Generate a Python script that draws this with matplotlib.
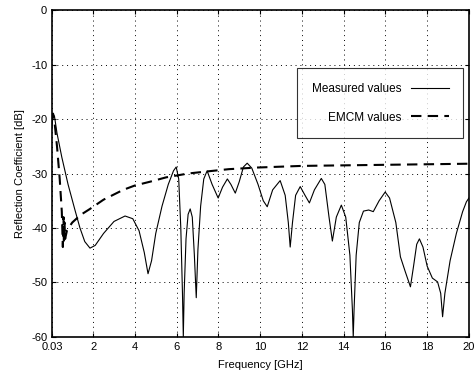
import matplotlib
matplotlib.use("Agg")
import matplotlib.pyplot as plt

plt.rcParams['font.family'] = ['Liberation Sans', 'DejaVu Sans']

# Measured values (frequency GHz, reflection dB)
meas_f = [0.03, 0.08, 0.15, 0.27, 0.5, 0.8, 1.13, 1.37, 1.6, 1.85, 2.1, 2.5, 3.0, 3.53,
          3.9, 4.2, 4.45, 4.63, 4.8, 5.0, 5.3, 5.6, 5.85, 5.98, 6.1, 6.2, 6.28, 6.32,
          6.36, 6.45, 6.55, 6.65, 6.75, 6.85, 6.94, 7.02, 7.15, 7.3, 7.46, 7.7, 7.99,
          8.2, 8.43, 8.6, 8.81, 9.0, 9.2, 9.38, 9.6, 9.9, 10.15, 10.34, 10.6, 10.96,
          11.2, 11.35, 11.44, 11.55, 11.7, 11.92, 12.15, 12.36, 12.6, 12.93, 13.1,
          13.3, 13.46, 13.65, 13.89, 14.1, 14.3, 14.42, 14.46, 14.5, 14.6, 14.75,
          14.95, 15.2, 15.42, 15.7, 15.99, 16.2, 16.5, 16.72, 16.95, 17.2, 17.35,
          17.5, 17.63, 17.8, 18.0, 18.25, 18.5, 18.65, 18.74, 18.85, 19.1, 19.4,
          19.7, 19.88, 20.0]
meas_db = [-21.5, -19, -19.5, -22.6, -27, -32, -36.7, -40, -42.5, -43.7, -43.2, -41,
           -38.8, -37.8, -38.3, -40.5, -44.5, -48.4, -46, -41, -36, -32, -29.5, -28.8,
           -31, -40, -52, -60, -52, -42, -37.5, -36.5, -38, -45, -52.8, -44, -36, -31,
           -29.5, -32, -34.5, -32.5, -31, -32, -33.6, -31.5, -28.8, -28.1, -29, -32,
           -35, -36.1, -33, -31.3, -34, -39, -43.5, -39, -34, -32.4, -34, -35.4, -33,
           -30.9, -32, -38, -42.4, -38, -35.8, -38, -45, -55, -60, -55, -45, -39,
           -36.9, -36.7, -37.0, -35, -33.4, -34.5, -39, -45.3, -48, -50.8, -47, -43,
           -42, -43.5, -47, -49.2, -49.9, -52, -56.3, -52, -46, -41, -37, -35.2, -34.5]

# EMCM values
emcm_f = [0.03, 0.08, 0.15, 0.27, 0.4, 0.5, 0.55, 0.58, 0.6, 0.63, 0.66, 0.75, 1.0,
          1.4, 1.85, 2.5, 3.44, 4.0, 4.73, 5.5, 6.55, 7.5, 8.5, 9.87, 12.0, 14.0,
          16.0, 18.0, 20.0]
emcm_db = [-20, -19, -20.5, -25, -31, -37, -43.5, -38, -43, -39, -42, -40.4, -39,
           -37.6, -36.5, -34.8, -33, -32.2, -31.5, -30.7, -30, -29.6, -29.2, -28.9,
           -28.6, -28.5, -28.4, -28.3, -28.2]

x_ticks = [0.03, 2, 4, 6, 8, 10, 12, 14, 16, 18, 20]
x_labels = ['0.03', '2', '4', '6', '8', '10', '12', '14', '16', '18', '20']
y_ticks = [-60, -50, -40, -30, -20, -10, 0]
y_labels = ['-60', '-50', '-40', '-30', '-20', '-10', '0']

fig = plt.figure(figsize=(4.77, 3.76), dpi=100)
ax = fig.add_axes([0.109, 0.104, 0.874, 0.869])

ax.plot(meas_f, meas_db, color='black', lw=0.8, label='Measured values')
ax.plot(emcm_f, emcm_db, color='black', lw=1.5, ls=(0, (5, 3)), label='EMCM values')

ax.set_xlim(0.03, 20)
ax.set_ylim(-60, 0)
ax.set_xticks(x_ticks)
ax.set_xticklabels(x_labels)
ax.set_yticks(y_ticks)
ax.set_yticklabels(y_labels)
ax.tick_params(direction='in', top=True, right=True, labelsize=8, length=3, width=0.8)
ax.grid(True, ls=(0, (1, 4)), color='black', lw=0.7)
for s in ax.spines.values():
    s.set_linewidth(1.2)

ax.set_xlabel('Frequency [GHz]', fontsize=8, labelpad=6)
ax.set_ylabel('Reflection Coefficient [dB]', fontsize=8)

leg = ax.legend(loc='upper left', bbox_to_anchor=(0.574, 0.84), markerfirst=False,
                fontsize=8.5, handlelength=3.2, frameon=True, fancybox=False,
                edgecolor='black', borderpad=1.25, labelspacing=1.4, handletextpad=0.8)
leg.get_frame().set_linewidth(0.8)

fig.savefig('out.png', dpi=100)
